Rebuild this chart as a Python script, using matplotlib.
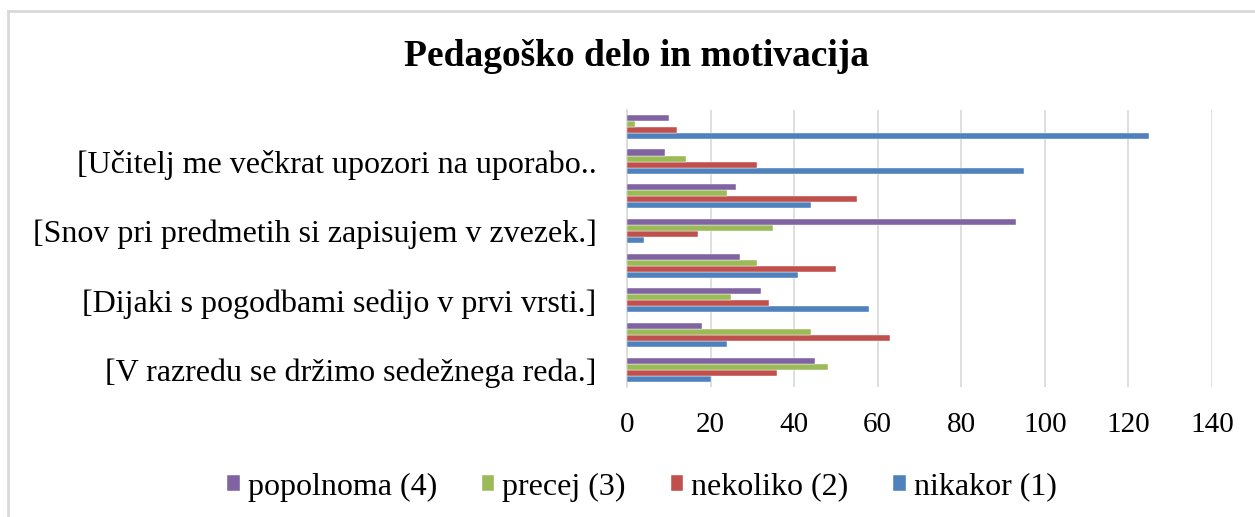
import matplotlib
matplotlib.use("Agg")
import matplotlib.pyplot as plt
from matplotlib.lines import Line2D
import numpy as np

categories = [
    "[V razredu se držimo sedežnega reda.]",
    "",
    "[Dijaki s pogodbami sedijo v prvi vrsti.]",
    "",
    "[Snov pri predmetih si zapisujem v zvezek.]",
    "",
    "[Učitelj me večkrat upozori na uporabo..",
    "",
]
series_names = ["nikakor (1)", "nekoliko (2)", "precej (3)", "popolnoma (4)"]
nikakor = [20, 24, 58, 41, 4, 44, 95, 125]
nekoliko = [36, 63, 34, 50, 17, 55, 31, 12]
precej = [48, 44, 25, 31, 35, 24, 14, 2]
popolnoma = [45, 18, 32, 27, 93, 26, 9, 10]
series = [nikakor, nekoliko, precej, popolnoma]
colors = ["#4F81BD", "#C0504D", "#9BBB59", "#8064A2"]
xticks = [0, 20, 40, 60, 80, 100, 120, 140]
title = "Pedagoško delo in motivacija"

plt.rcParams['font.family'] = ['Liberation Serif', 'DejaVu Serif']

W, H = 1255, 517
fig = plt.figure(figsize=(W / 100, H / 100), dpi=100)
ax = fig.add_axes([627 / W, 1 - 387 / H, (1212 - 627) / W, (387 - 109.6) / H])

y = np.arange(len(categories))
h = 0.175
handles = []
for i, (vals, c, name) in enumerate(zip(series, colors, series_names)):
    b = ax.barh(y + (i - 1.5) * h, vals, height=h, color=c, label=name,
                edgecolor="white", linewidth=0.3, zorder=3)
    handles.append(b)

ax.set_xlim(0, 140)
ax.set_ylim(-0.5, len(categories) - 0.5)
ax.set_xticks(xticks)
ax.set_xticklabels([str(t) for t in xticks], fontsize=21)
ax.set_yticks(y)
ax.set_yticklabels(categories, fontsize=23)
ax.tick_params(axis="y", length=0, pad=22)
ax.tick_params(axis="x", length=0, pad=18)
ax.grid(axis="x", color="#D9D9D9", linewidth=1.2, zorder=0)
for s in ["top", "right", "bottom"]:
    ax.spines[s].set_visible(False)
ax.spines["left"].set_color("#D9D9D9")
ax.spines["left"].set_linewidth(1.2)

fig.text(636 / W, 1 - 57 / H, title, ha="center", va="center",
         fontsize=27, fontweight="bold")

leg = fig.legend(handles=handles[::-1], labels=series_names[::-1],
                 loc="center", bbox_to_anchor=(642 / W, 1 - 487 / H),
                 ncol=4, frameon=False, fontsize=23, handlelength=0.4,
                 handleheight=0.4, handletextpad=0.25, columnspacing=1.4,
                 borderpad=0)

# chart border (top and left visible)
fig.add_artist(Line2D([8 / W, 8 / W], [0, 1 - 11 / H], transform=fig.transFigure,
                      color="#D9D9D9", linewidth=2))
fig.add_artist(Line2D([8 / W, 1], [1 - 11 / H, 1 - 11 / H], transform=fig.transFigure,
                      color="#D9D9D9", linewidth=2))

fig.savefig("out.png", dpi=100)
